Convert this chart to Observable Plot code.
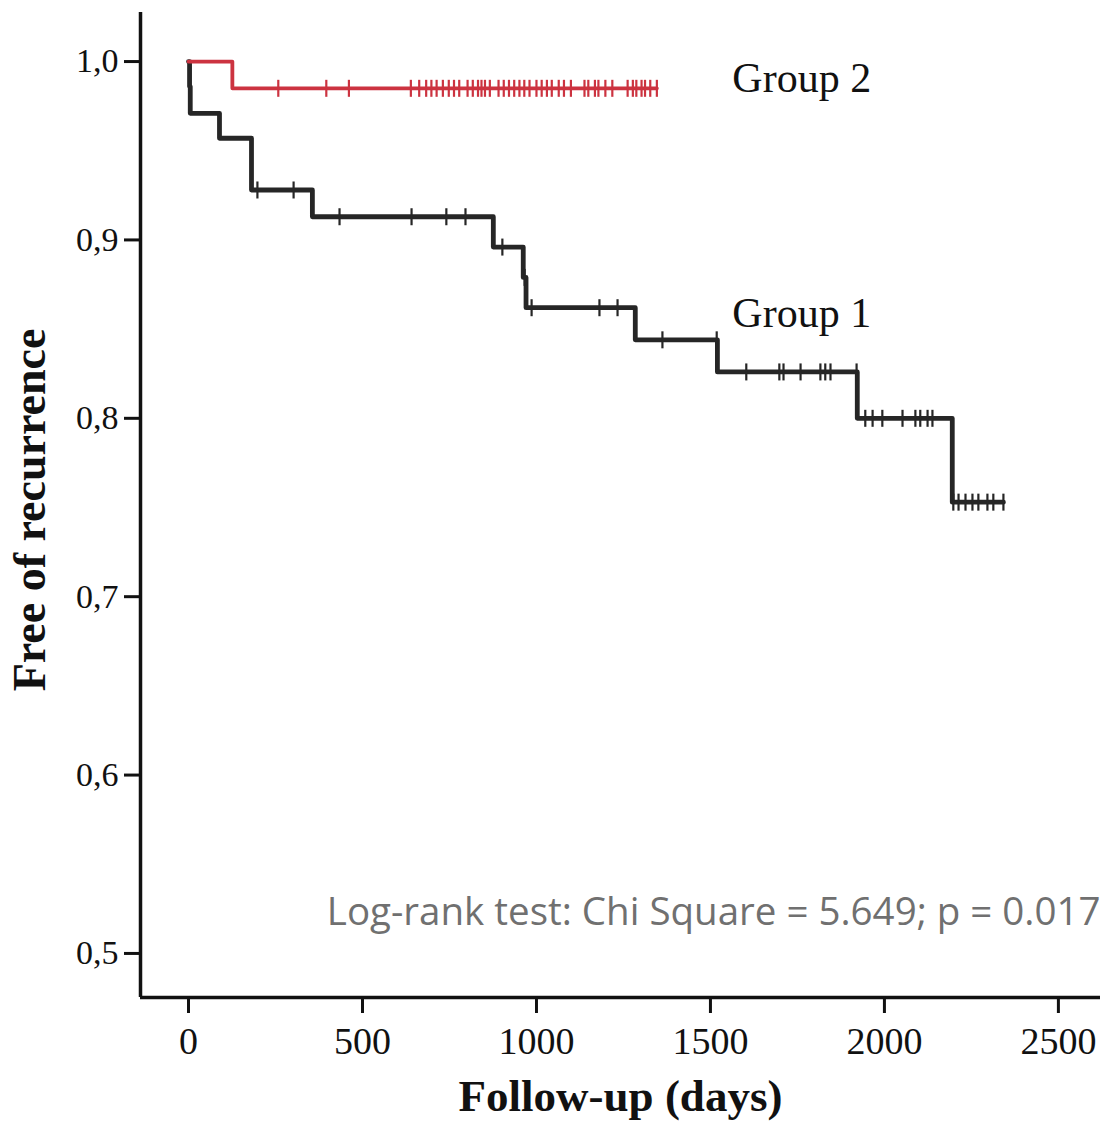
<!DOCTYPE html>
<html>
<head>
<meta charset="utf-8">
<script src="https://cdn.jsdelivr.net/npm/d3@7"></script>
<script src="https://cdn.jsdelivr.net/npm/@observablehq/plot@0.6"></script>
<style>
  html, body { margin: 0; padding: 0; background: #fff; }
  #chart svg { display: block; }
</style>
</head>
<body>
<div id="chart"></div>
<script>
// ---- Data ----
// Group 1 (black): Kaplan-Meier step events
const group1EventDays = [0, 3, 5, 89, 181, 356, 876, 962, 970, 1284, 1520, 1922, 2195];
const group1Survival  = [1.0, 0.986, 0.971, 0.957, 0.928, 0.913, 0.896, 0.879, 0.862, 0.844, 0.826, 0.800, 0.753];
const group1LastDay = 2342;
const group1CensorDays = [198, 302, 434, 641, 741, 796, 902, 966, 986, 1181, 1233, 1362, 1518,
  1603, 1698, 1710, 1759, 1816, 1830, 1845, 1920, 1945, 1966, 1994, 2052, 2089, 2103, 2124, 2138,
  2198, 2213, 2233, 2253, 2270, 2296, 2313, 2342];

// Group 2 (red)
const group2EventDays = [0, 126];
const group2Survival  = [1.0, 0.985];
const group2LastDay = 1346;
const group2CensorDays = [258, 396, 461, 639, 663, 683, 698, 713, 731, 748, 763, 778, 802, 817, 832,
  842, 852, 866, 891, 906, 921, 936, 951, 965, 980, 1000, 1015, 1030, 1044, 1064, 1079, 1099, 1138,
  1149, 1168, 1178, 1198, 1218, 1262, 1277, 1287, 1302, 1312, 1327, 1346];

const xTicks = [0, 500, 1000, 1500, 2000, 2500];
const yTicks = [0.5, 0.6, 0.7, 0.8, 0.9, 1.0];
const groupLabels = ["Group 2", "Group 1"];
const testLabel = "Log-rank test: Chi Square = 5.649; p = 0.017";
const xLabel = "Follow-up (days)";
const yLabel = "Free of recurrence";

// ---- Build tables ----
function curve(days, surv, last) {
  const pts = days.map((d, i) => ({day: d, s: surv[i]}));
  pts.push({day: last, s: surv[surv.length - 1]});
  return pts;
}
function survAt(days, surv, t) {
  let s = surv[0];
  for (let i = 0; i < days.length; i++) if (days[i] <= t) s = surv[i];
  return s;
}
const g1Line = curve(group1EventDays, group1Survival, group1LastDay);
const g2Line = curve(group2EventDays, group2Survival, group2LastDay);
const g1Cens = group1CensorDays.map(t => ({day: t, s: survAt(group1EventDays, group1Survival, t)}));
const g2Cens = group2CensorDays.map(t => ({day: t, s: survAt(group2EventDays, group2Survival, t)}));

const vbar = { draw(ctx, size) { const h = Math.sqrt(size / Math.PI); ctx.moveTo(0, -h); ctx.lineTo(0, h); } };

const xDomain = [-138, 2621];
const yDomain = [0.4753, 1.0275];
const black = "#262626";
const red = "#cc3340";
const serif = "Liberation Serif, Times New Roman, serif";

const chart = Plot.plot({
  width: 1107,
  height: 1139,
  marginLeft: 140,
  marginRight: 7,
  marginTop: 12,
  marginBottom: 142,
  x: {domain: xDomain, axis: null},
  y: {domain: yDomain, axis: null},
  marks: [
    Plot.ruleX([xDomain[0]], {stroke: "#111", strokeWidth: 3.5}),
    Plot.ruleY([yDomain[0]], {stroke: "#111", strokeWidth: 3.5}),
    Plot.axisX({ticks: xTicks, tickSize: 16, tickPadding: 14, tickFormat: d => String(d),
      fontSize: 38, fontFamily: serif, strokeWidth: 3, stroke: "#111", fill: "#111", label: null}),
    Plot.axisY({ticks: yTicks, tickSize: 16, tickPadding: 6, tickFormat: d => d.toFixed(1).replace(".", ","),
      fontSize: 34, fontFamily: serif, strokeWidth: 3, stroke: "#111", fill: "#111", label: null}),
    Plot.line(g1Line, {x: "day", y: "s", curve: "step-after", stroke: black, strokeWidth: 4.8}),
    Plot.dot(g1Cens, {x: "day", y: "s", symbol: vbar, r: 8.5, stroke: black, strokeWidth: 2.2}),
    Plot.line(g2Line, {x: "day", y: "s", curve: "step-after", stroke: red, strokeWidth: 3.8}),
    Plot.dot(g2Cens, {x: "day", y: "s", symbol: vbar, r: 8.5, stroke: red, strokeWidth: 2.2}),
    Plot.text([groupLabels[0]], {x: 1563, y: 0.9905, text: d => d, textAnchor: "start",
      fontSize: 42, fontFamily: serif, fill: "#111"}),
    Plot.text([groupLabels[1]], {x: 1563, y: 0.8587, text: d => d, textAnchor: "start",
      fontSize: 42, fontFamily: serif, fill: "#111"}),
    Plot.text([testLabel], {x: xDomain[1], y: 0.523, text: d => d, textAnchor: "end",
      fontSize: 38.5, fontFamily: "Open Sans, Noto Sans, sans-serif", fill: "#707070"}),
    Plot.text([xLabel], {frameAnchor: "bottom", dy: 113, text: d => d,
      fontSize: 45, fontWeight: "bold", fontFamily: serif, fill: "#111"}),
    Plot.text([yLabel], {frameAnchor: "left", dx: -110, dy: 5, rotate: -90, textAnchor: "middle", text: d => d,
      fontSize: 46, fontWeight: "bold", fontFamily: serif, fill: "#111"})
  ]
});
document.getElementById("chart").appendChild(chart);
</script>
</body>
</html>
